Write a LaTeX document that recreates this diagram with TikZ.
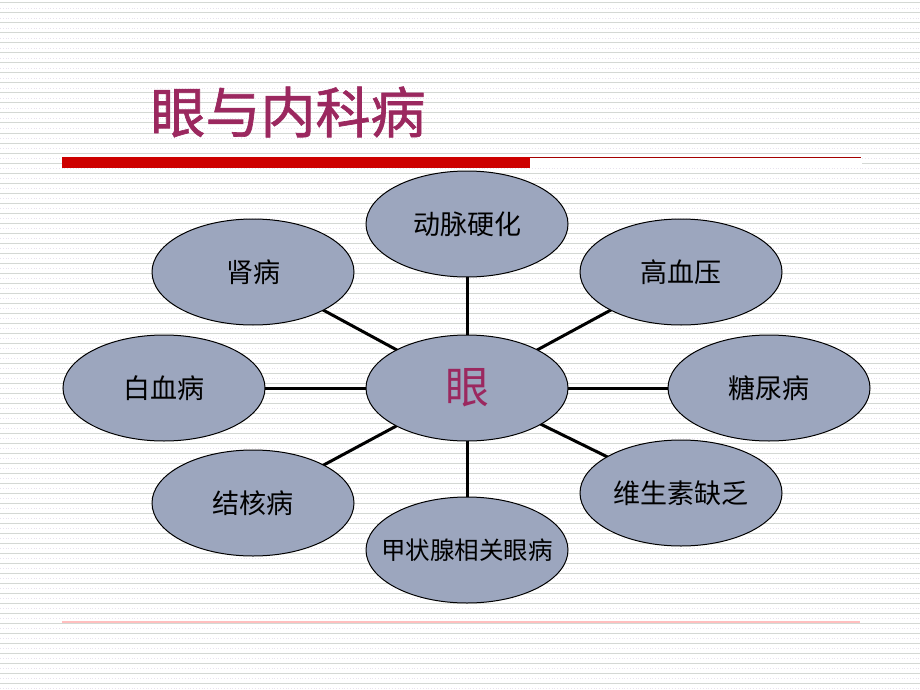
\documentclass[tikz,border=0pt]{standalone}
\usepackage{fontspec}
\newfontfamily\cjk{Noto Sans CJK SC}
\newfontfamily\cjkt[FakeBold=1.2]{Noto Sans CJK SC}
\definecolor{titlec}{RGB}{155,40,95}
\definecolor{ellc}{RGB}{156,166,190}
\definecolor{gridA}{RGB}{212,216,212}
\definecolor{gridB}{RGB}{232,226,238}
\definecolor{barred}{RGB}{205,0,0}
\pgfdeclarelayer{bg}
\pgfdeclarelayer{lines}
\pgfsetlayers{bg,lines,main}
\tikzset{
  disease/.style={ellipse, draw=black, line width=1pt, fill=ellc, minimum width=202pt, minimum height=106pt, inner sep=0pt, font=\cjk\fontsize{27}{30}\selectfont},
  link/.style={draw=black, line width=3pt}
}
\usetikzlibrary{shapes.geometric}
\begin{document}
\begin{tikzpicture}[x=1pt,y=-1pt]
\useasboundingbox (0,0) rectangle (920,690);
\begin{pgfonlayer}{bg}
\fill[white] (0,0) rectangle (920,690);
\foreach \i in {0,...,69}{
  \draw[gridA, line width=1pt] (0,{\i*10+3}) -- (920,{\i*10+3});
  \draw[gridB, line width=0.8pt, dotted] (0,{\i*10+8}) -- (920,{\i*10+8});
}
\fill[white] (62,158) rectangle (862,168);
\end{pgfonlayer}
% title
\node[anchor=center, text=titlec, font=\cjkt\fontsize{55}{58}\selectfont] (title) at (288,112) {眼与内科病};
\fill[barred] (62,157) rectangle (530,168);
\draw[barred!80!black, line width=1.2pt] (530,157.5) -- (861,157.5);
\draw[red!25, line width=1.5pt] (62,622) -- (860,622);
% nodes
\node[disease, font=\cjk\fontsize{44}{48}\selectfont, text=titlec] (eye) at (467,388) {眼};
\node[disease] (a) at (467,224) {动脉硬化};
\node[disease] (b) at (253,272) {肾病};
\node[disease] (c) at (681,272) {高血压};
\node[disease] (d) at (164,388) {白血病};
\node[disease] (e) at (769,388) {糖尿病};
\node[disease] (f) at (253,503) {结核病};
\node[disease] (g) at (681,493) {维生素缺乏};
\node[disease, font=\cjk\fontsize{24.5}{27}\selectfont, inner xsep=-30pt] (h) at (467,550) {甲状腺相关眼病};
\begin{pgfonlayer}{lines}
\foreach \n in {a,b,c,d,e,f,g,h}{
  \draw[link] (eye.center) -- (\n.center);
}
\end{pgfonlayer}
\end{tikzpicture}
\end{document}
